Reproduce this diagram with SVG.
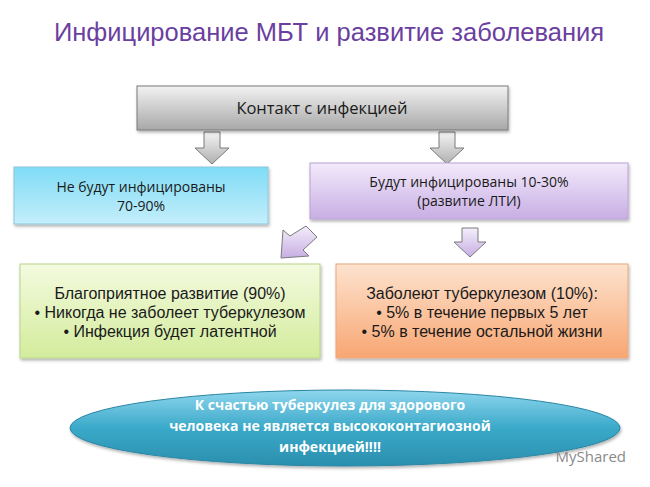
<svg xmlns="http://www.w3.org/2000/svg" width="650" height="487" viewBox="0 0 650 487">
<defs>
<linearGradient id="gGray" x1="0" y1="0" x2="0" y2="1"><stop offset="0" stop-color="#f2f2f2"/><stop offset="1" stop-color="#a8a8a8"/></linearGradient>
<linearGradient id="gBlue" x1="0" y1="0" x2="0" y2="1"><stop offset="0" stop-color="#7fdcf6"/><stop offset="1" stop-color="#c4eefb"/></linearGradient>
<linearGradient id="gPurple" x1="0" y1="0" x2="0" y2="1"><stop offset="0" stop-color="#f3eafb"/><stop offset="1" stop-color="#c8aee4"/></linearGradient>
<linearGradient id="gGreen" x1="0" y1="0" x2="0" y2="1"><stop offset="0" stop-color="#f4fadf"/><stop offset="1" stop-color="#d3ec9c"/></linearGradient>
<linearGradient id="gOrange" x1="0" y1="0" x2="0" y2="1"><stop offset="0" stop-color="#fde3cf"/><stop offset="1" stop-color="#f8a672"/></linearGradient>
<linearGradient id="gEll" x1="0" y1="0" x2="0" y2="1"><stop offset="0" stop-color="#8fd6ee"/><stop offset="0.5" stop-color="#3aa9c9"/><stop offset="1" stop-color="#2b8fae"/></linearGradient>
<linearGradient id="gArG" x1="0" y1="0" x2="0" y2="1"><stop offset="0" stop-color="#f4f4f4"/><stop offset="1" stop-color="#b0b0b0"/></linearGradient>
<linearGradient id="gArP" x1="0" y1="0" x2="0" y2="1"><stop offset="0" stop-color="#f4eefb"/><stop offset="1" stop-color="#c7aee3"/></linearGradient>
<filter id="sh" x="-10%" y="-10%" width="120%" height="130%"><feDropShadow dx="1" dy="2" stdDeviation="1.5" flood-color="#000" flood-opacity="0.3"/></filter>
</defs>
<style>
.box{stroke-width:1;filter:url(#sh)}
.t{font-family:"Liberation Sans",Arial,sans-serif;font-size:16px;fill:#1a1a1a;text-anchor:middle}
.o{font-family:"Open Sans","DejaVu Sans",sans-serif;font-size:14px;fill:#1a1a1a;text-anchor:middle}
.big{font-size:16.5px}
.ar{stroke:#7a7a7a;stroke-width:1}
</style>
<rect width="650" height="487" fill="#ffffff"/>
<text x="329" y="41" font-family="Liberation Sans,Arial,sans-serif" font-size="25.5" fill="#6b3fa0" text-anchor="middle">Инфицирование МБТ и развитие заболевания</text>
<g id="connectors">
<path class="ar" fill="url(#gArG)" d="M204,132 H220 V148 H229 L212,164 L195,148 H204 Z"/>
<path class="ar" fill="url(#gArG)" d="M439,132 H455 V148 H464 L447,164 L430,148 H439 Z"/>
<path class="ar" fill="url(#gArP)" stroke="#9a86b8" d="M462,228 H478 V242 H486 L470,257 L454,242 H462 Z"/>
<path class="ar" fill="url(#gArP)" stroke="#9a86b8" d="M306,226 L317,237 L303,250 L309,256 L281,258 L283,230 L290,236 Z"/>
</g>
<g id="contact"><rect class="box" x="137" y="86" width="371" height="44" fill="url(#gGray)" stroke="#7a7a7a"/><text class="o big" x="322" y="114">Контакт с инфекцией</text></g>
<g id="not-infected"><rect class="box" x="14" y="167" width="254" height="57" fill="url(#gBlue)" stroke="#8cc8dc"/><text class="o" x="141" y="192">Не будут инфицированы</text><text class="o" x="141" y="211">70-90%</text></g>
<g id="infected"><rect class="box" x="310" y="163" width="318" height="56" fill="url(#gPurple)" stroke="#b8a4d4"/><text class="o" x="469" y="187">Будут инфицированы 10-30%</text><text class="o" x="469" y="206">(развитие ЛТИ)</text></g>
<g id="favorable"><rect class="box" x="20" y="264" width="300" height="94" fill="url(#gGreen)" stroke="#b9d48a"/><text class="t" x="170" y="299">Благоприятное развитие (90%)</text><text class="t" x="170" y="318">• Никогда не заболеет туберкулезом</text><text class="t" x="170" y="337">• Инфекция будет латентной</text></g>
<g id="disease"><rect class="box" x="336" y="264" width="292" height="94" fill="url(#gOrange)" stroke="#e8a880"/><text class="t" x="482" y="299">Заболеют туберкулезом (10%):</text><text class="t" x="482" y="318">• 5% в течение первых 5 лет</text><text class="t" x="482" y="337">• 5% в течение остальной жизни</text></g>
<g id="note"><ellipse cx="345" cy="428" rx="275" ry="38" fill="url(#gEll)" stroke="#2a86a4" filter="url(#sh)"/>
<text x="330" y="410" font-family="Open Sans,DejaVu Sans,sans-serif" font-size="14" font-weight="bold" fill="#ffffff" text-anchor="middle">К счастью туберкулез для здорового</text>
<text x="330" y="431" font-family="Open Sans,DejaVu Sans,sans-serif" font-size="14" font-weight="bold" fill="#ffffff" text-anchor="middle">человека не является высококонтагиозной</text>
<text x="330" y="452" font-family="Open Sans,DejaVu Sans,sans-serif" font-size="14" font-weight="bold" fill="#ffffff" text-anchor="middle">инфекцией!!!!</text></g>
<text x="626" y="462" font-family="Open Sans,DejaVu Sans,sans-serif" font-size="15" fill="#8a8a8a" text-anchor="end">MyShared</text>
</svg>
